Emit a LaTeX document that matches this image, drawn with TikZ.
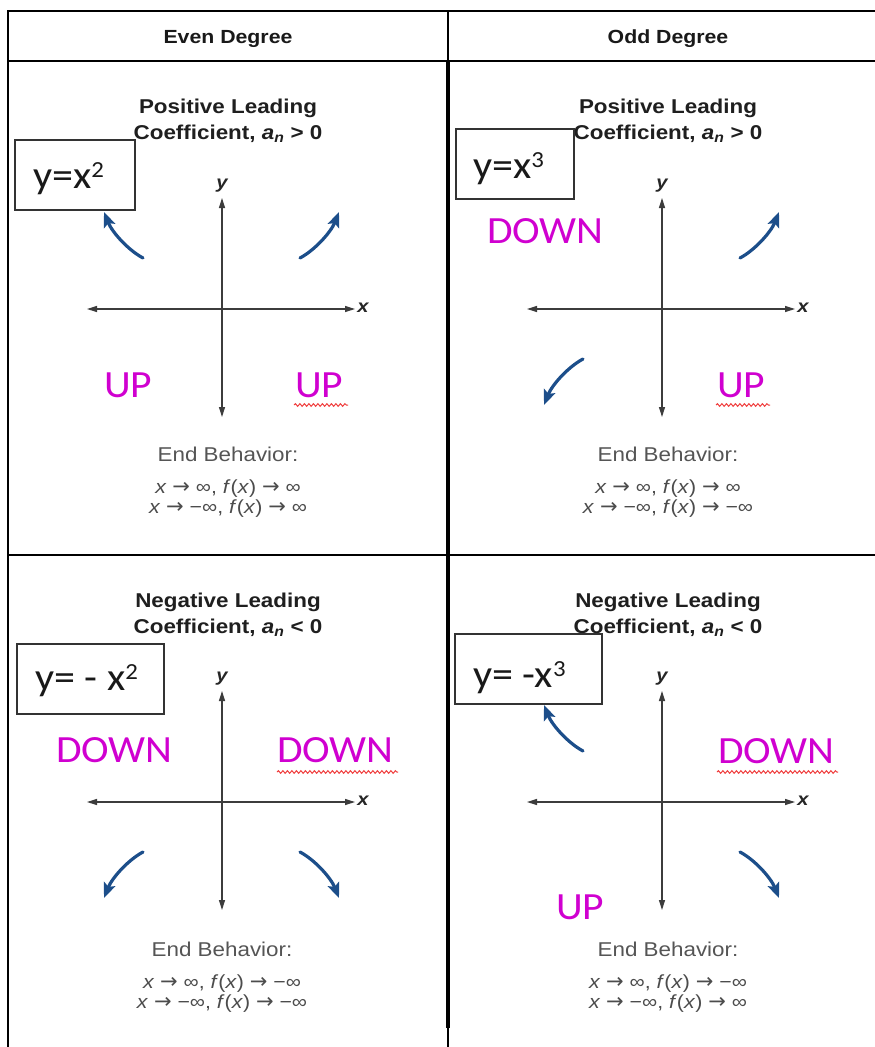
\documentclass[tikz,border=0pt]{standalone}
\usepackage{fontspec}
\usetikzlibrary{arrows.meta,decorations.pathmorphing}
\setmainfont{Liberation Sans}
\newfontfamily\hfont[FakeStretch=1.12]{Liberation Sans}
\newfontfamily\cfont[FakeStretch=1.08]{Carlito}
\newfontfamily\arrfont{DejaVu Sans}
\definecolor{mag}{RGB}{208,0,208}
\definecolor{arrblue}{RGB}{28,78,138}
\definecolor{squig}{RGB}{240,60,60}
\definecolor{txtgray}{RGB}{85,85,85}
\definecolor{axgray}{RGB}{60,60,60}
\tikzset{
  gridline/.style={draw=black,line width=1.6pt},
  thickline/.style={draw=black,line width=3.6pt},
  headtxt/.style={font=\hfont\bfseries\fontsize{19}{22}\selectfont,text=black!90,inner sep=0,anchor=base},
  titletxt/.style={font=\hfont\bfseries\fontsize{20}{24}\selectfont,text=black!88,inner sep=0,anchor=base},
  endtxt/.style={font=\hfont\fontsize{20}{24}\selectfont,text=txtgray,inner sep=0,anchor=base},
  eqtxt/.style={font=\hfont\fontsize{19}{22}\selectfont,text=txtgray!90!black,inner sep=0,anchor=base},
  eqbox/.style={draw=black!80,line width=1.5pt,fill=white,anchor=north west,inner sep=0},
  boxtxt/.style={font=\cfont\fontsize{39}{40}\selectfont,text=black!90,inner sep=0,anchor=base west},
  dirtxt/.style={font=\cfont\fontsize{38.5}{40}\selectfont,text=mag,inner sep=0,anchor=base west},
  axisline/.style={draw=axgray,line width=1.2pt,{Triangle[length=10pt,width=6pt]}-{Triangle[length=10pt,width=6pt]}},
  axlbl/.style={font=\hfont\bfseries\itshape\fontsize{18}{20}\selectfont,text=black!85,inner sep=0},
  barrow/.style={draw=arrblue,line width=3.2pt,line cap=round,-{Stealth[length=15pt,width=12pt,inset=3pt]}},
  squiggle/.style={draw=squig,line width=1pt,decorate,decoration={snake,amplitude=1.3pt,segment length=4.5pt}}
}
\newcommand\myaxes[3]{%
  \coordinate (#1xl) at ({#2-135},#3);
  \coordinate (#1xr) at ({#2+133},#3);
  \coordinate (#1yt) at (#2,{#3-111});
  \coordinate (#1yb) at (#2,{#3+108});
  \draw[axisline] (#1xl) -- (#1xr);
  \draw[axisline] (#1yb) -- (#1yt);
  \node[axlbl] (#1xlab) at ({#2+141},{#3-1}) {x};
  \node[axlbl] (#1ylab) at ({#2},{#3-123}) {y};
}
\newcommand\arrUL[2]{\draw[barrow] ({#1-79},{#2-51}) .. controls ({#1-94},{#2-59}) and ({#1-110},{#2-77}) .. ({#1-118},{#2-97});}
\newcommand\arrUR[2]{\draw[barrow] ({#1+78},{#2-51}) .. controls ({#1+93},{#2-59}) and ({#1+109},{#2-77}) .. ({#1+117},{#2-97});}
\newcommand\arrLL[2]{\draw[barrow] ({#1-79},{#2+50}) .. controls ({#1-94},{#2+58}) and ({#1-110},{#2+76}) .. ({#1-118},{#2+96});}
\newcommand\arrLR[2]{\draw[barrow] ({#1+78},{#2+50}) .. controls ({#1+93},{#2+58}) and ({#1+109},{#2+76}) .. ({#1+117},{#2+96});}
\newcommand\supr[1]{\raisebox{11pt}{\fontsize{23}{23}\selectfont #1}}
\newcommand\ra{\ {\arrfont\fontsize{21}{22}\selectfont →}\ }
\begin{document}
\begin{tikzpicture}[x=1pt,y=-1pt]
\useasboundingbox (0,0) rectangle (875,1047);
\fill[white] (0,0) rectangle (875,1047);
% grid
\draw[gridline] (8,11) -- (875,11);
\draw[gridline] (8,61) -- (875,61);
\draw[gridline] (8,555) -- (875,555);
\draw[gridline] (8,10.2) -- (8,1047);
\draw[gridline] (448,11) -- (448,61);
\draw[thickline] (448,61) -- (448,1028);
\draw[gridline] (448,1028) -- (448,1047);
% header
\node[headtxt] (hEven) at (228,43) {Even Degree};
\node[headtxt] (hOdd) at (668,43) {Odd Degree};
% titles
\node[titletxt] (t1a) at (228,113) {Positive Leading};
\node[titletxt] (t1b) at (228,139) {Coefficient, \textit{a}\textsubscript{\textit{n}} > 0};
\node[titletxt] (t2a) at (668,113) {Positive Leading};
\node[titletxt] (t2b) at (668,139) {Coefficient, \textit{a}\textsubscript{\textit{n}} > 0};
\node[titletxt] (t3a) at (228,607) {Negative Leading};
\node[titletxt] (t3b) at (228,633) {Coefficient, \textit{a}\textsubscript{\textit{n}} < 0};
\node[titletxt] (t4a) at (668,607) {Negative Leading};
\node[titletxt] (t4b) at (668,633) {Coefficient, \textit{a}\textsubscript{\textit{n}} < 0};
% equation boxes
\node[eqbox,minimum width=120pt,minimum height=70pt] (b1) at (14,139) {};
\node[boxtxt] (b1t) at (33,188) {y=x\supr{2}};
\node[eqbox,minimum width=118pt,minimum height=70pt] (b2) at (455,128) {};
\node[boxtxt] (b2t) at (473,178) {y=x\supr{3}};
\node[eqbox,minimum width=147pt,minimum height=70pt] (b3) at (16,643) {};
\node[boxtxt] (b3t) at (35,690) {y= - x\supr{2}};
\node[eqbox,minimum width=147pt,minimum height=70pt] (b4) at (454,633) {};
\node[boxtxt] (b4t) at (473,687) {y= -x\supr{3}};
% axes
\myaxes{a}{222}{309}
\myaxes{b}{662}{309}
\myaxes{c}{222}{802}
\myaxes{d}{662}{802}
% blue arrows
\arrUL{222}{309}
\arrUR{222}{309}
\arrUR{662}{309}
\arrLL{662}{309}
\arrLL{222}{802}
\arrLR{222}{802}
\arrUL{662}{802}
\arrLR{662}{802}
% direction labels
\node[dirtxt] (u1) at (104,397) {UP};
\node[dirtxt] (u2) at (295,397) {UP};
\node[dirtxt] (d1) at (487,243) {DOWN};
\node[dirtxt] (u3) at (717,397) {UP};
\node[dirtxt] (d2) at (56,762) {DOWN};
\node[dirtxt] (d3) at (277,762) {DOWN};
\node[dirtxt] (d4) at (718,763) {DOWN};
\node[dirtxt] (u4) at (556,919) {UP};
% squiggly underlines
\draw[squiggle] (294,405) -- (348,405);
\draw[squiggle] (716,405) -- (770,405);
\draw[squiggle] (277,772) -- (398,772);
\draw[squiggle] (717,772) -- (838,772);
% end behavior
\node[endtxt] (e1) at (228,461) {End Behavior:};
\node[eqtxt] (e1a) at (228,493) {\textit{x}\ra∞, \textit{f}(\textit{x})\ra∞};
\node[eqtxt] (e1b) at (228,513) {\textit{x}\ra−∞, \textit{f}(\textit{x})\ra∞};
\node[endtxt] (e2) at (668,461) {End Behavior:};
\node[eqtxt] (e2a) at (668,493) {\textit{x}\ra∞, \textit{f}(\textit{x})\ra∞};
\node[eqtxt] (e2b) at (668,513) {\textit{x}\ra−∞, \textit{f}(\textit{x})\ra−∞};
\node[endtxt] (e3) at (222,956) {End Behavior:};
\node[eqtxt] (e3a) at (222,988) {\textit{x}\ra∞, \textit{f}(\textit{x})\ra−∞};
\node[eqtxt] (e3b) at (222,1008) {\textit{x}\ra−∞, \textit{f}(\textit{x})\ra−∞};
\node[endtxt] (e4) at (668,956) {End Behavior:};
\node[eqtxt] (e4a) at (668,988) {\textit{x}\ra∞, \textit{f}(\textit{x})\ra−∞};
\node[eqtxt] (e4b) at (668,1008) {\textit{x}\ra−∞, \textit{f}(\textit{x})\ra∞};
\end{tikzpicture}
\end{document}
